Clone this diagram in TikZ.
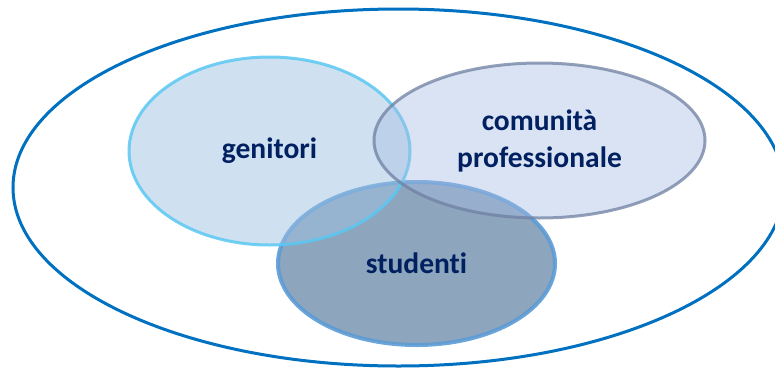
\documentclass[tikz,border=0pt]{standalone}
\usepackage{fontspec}
\setmainfont{Carlito}[Ligatures={NoCommon}]
\usetikzlibrary{shapes.geometric}

\definecolor{navy}{RGB}{0,32,96}
\definecolor{ringblue}{RGB}{0,112,192}
\definecolor{genfill}{RGB}{159,193,227}
\definecolor{genline}{RGB}{90,200,242}
\definecolor{comfill}{RGB}{167,188,226}
\definecolor{comline}{RGB}{110,128,162}
\definecolor{stufill}{RGB}{142,165,190}
\definecolor{stuline}{RGB}{91,155,213}

\begin{document}
\begin{tikzpicture}[x=1pt, y=-1pt,
    group/.style ={ellipse, inner sep=0pt, text=navy, text opacity=1, align=center,
                   font=\bfseries\fontsize{29.5}{37}\selectfont}]
   \clip (0,0) rectangle (775,367);

   \node[ellipse, draw=ringblue, line width=3pt, minimum width=771pt, minimum height=357pt] (scuola) at (398.5,187.5) {};

   \node[group, fill=stufill, draw=stuline, line width=4pt, draw opacity=0.9,
         minimum width=277pt, minimum height=163pt] (studenti) at (416.5,263.5) {studenti};
   \node[group, fill=genfill, fill opacity=0.5, draw=genline, line width=3pt, draw opacity=0.85,
         minimum width=281pt, minimum height=188pt] (genitori) at (269.5,151) {genitori};
   \node[group, fill=comfill, fill opacity=0.42, draw=comline, line width=3pt, draw opacity=0.75,
         minimum width=331pt, minimum height=155pt] (comunita) at (539.5,140.5) {comunità\\professionale};
\end{tikzpicture}
\end{document}
